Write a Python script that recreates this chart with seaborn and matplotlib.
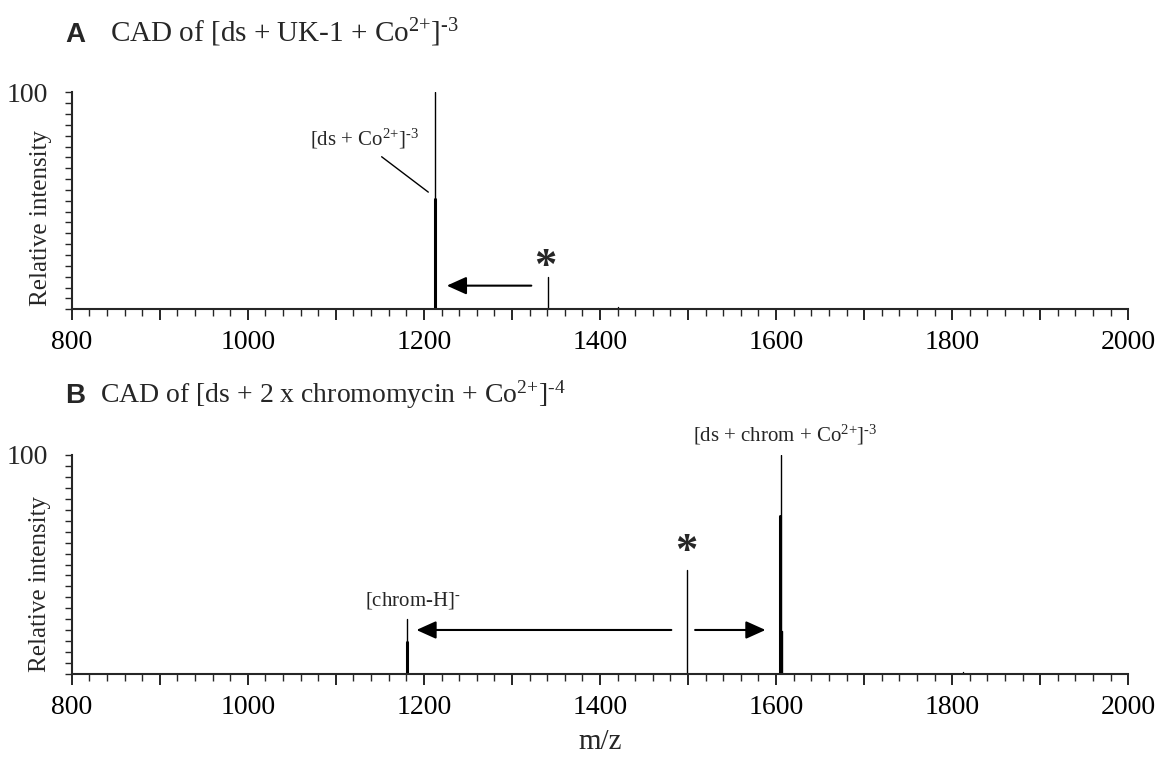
import numpy as np
import pandas as pd
import matplotlib
matplotlib.use("Agg")
import matplotlib.pyplot as plt
import seaborn as sns
from matplotlib.ticker import MultipleLocator, FixedLocator, FuncFormatter

# ---------------- data ----------------
a_mz = [1213.0, 1341.0, 1420.0]
a_int = [100.0, 14.7, 1.2]
a_core_mz = [1212.6]
a_core_int = [51.0]

b_mz = [1180.5, 1499.0, 1605.0, 1606.5, 1812.0]
b_int = [25.0, 47.5, 100.0, 19.6, 0.8]
b_core_mz = [1180.5, 1604.7]
b_core_int = [14.7, 72.0]

x_ticks = [800, 1000, 1200, 1400, 1600, 1800, 2000]
y_ticks = [100]
x_range = (800, 2000)
y_range = (0, 100)

title_a = r"CAD of [ds + UK-1 + Co$^{\text{2+}}$]$^{\text{-3}}$"
title_b = r"CAD of [ds + 2 x chromomycin + Co$^{\text{2+}}$]$^{\text{-4}}$"
label_a = r"[ds + Co$^{\text{2+}}$]$^{\text{-3}}$"
label_b1 = r"[chrom-H]$^{\text{-}}$"
label_b2 = r"[ds + chrom + Co$^{\text{2+}}$]$^{\text{-3}}$"

# ---------------- style ----------------
sns.set_style("ticks")
plt.rcParams["font.family"] = ["Liberation Serif", "DejaVu Serif"]
plt.rcParams["mathtext.fontset"] = "custom"
plt.rcParams["mathtext.rm"] = "Liberation Serif"
plt.rcParams["mathtext.it"] = "Liberation Serif:italic"
plt.rcParams["mathtext.bf"] = "Liberation Serif:bold"
plt.rcParams["axes.linewidth"] = 1.5


def sticks(mz, inten):
    rows = []
    for i, (m, h) in enumerate(zip(mz, inten)):
        rows.append({"mz": m, "I": 0.0, "pk": i})
        rows.append({"mz": m, "I": h, "pk": i})
    return pd.DataFrame(rows)


fig = plt.figure(figsize=(11.62, 7.6), dpi=100)
L = 71.7 / 1162
W = (1128.3 - 71.7) / 1162
axA = fig.add_axes([L, 1 - 309.3 / 760, W, (309.3 - 92.3) / 760])
axB = fig.add_axes([L, 1 - 674 / 760, W, (674 - 455) / 760])


def style_axis(ax):
    ax.set_xlim(*x_range)
    ax.set_ylim(*y_range)
    for s in ("top", "right"):
        ax.spines[s].set_visible(False)
    ax.xaxis.set_major_locator(MultipleLocator(100))
    ax.xaxis.set_major_formatter(
        FuncFormatter(lambda v, p: f"{int(round(v))}" if int(round(v)) in x_ticks else ""))
    ax.xaxis.set_minor_locator(MultipleLocator(20))
    ax.yaxis.set_major_locator(FixedLocator([0] + y_ticks))
    ax.yaxis.set_major_formatter(
        FuncFormatter(lambda v, p: f"{int(round(v))}" if int(round(v)) in y_ticks else ""))
    ax.yaxis.set_minor_locator(MultipleLocator(5))
    ax.tick_params(axis="x", which="major", length=8, width=1.2, direction="out",
                   labelsize=20, pad=7, colors="black")
    ax.tick_params(axis="x", which="minor", length=5, width=1.0, direction="out")
    ax.tick_params(axis="y", which="both", length=5, width=1.0, direction="out")
    ax.tick_params(axis="y", which="major", labelsize=20, pad=12)
    ax.set_xlabel("")
    ax.set_ylabel("")
    ax.set_facecolor("white")


for ax, mz, inten, cmz, cint in ((axA, a_mz, a_int, a_core_mz, a_core_int),
                                  (axB, b_mz, b_int, b_core_mz, b_core_int)):
    sns.lineplot(data=sticks(mz, inten), x="mz", y="I", units="pk", estimator=None,
                 sort=False, color="black", lw=1.0, ax=ax, legend=False)
    sns.lineplot(data=sticks(cmz, cint), x="mz", y="I", units="pk", estimator=None,
                 sort=False, color="black", lw=2.2, ax=ax, legend=False)
    style_axis(ax)

# y labels
axA.text(-0.029, 0.423, "Relative intensity", rotation=90, ha="center", va="center",
         fontsize=18, transform=axA.transAxes)
axB.text(-0.030, 0.411, "Relative intensity", rotation=90, ha="center", va="center",
         fontsize=18, transform=axB.transAxes)

arrow_kw = dict(arrowstyle="-|>,head_length=1.0,head_width=0.45", mutation_scale=12,
                lw=1.5, color="black", shrinkA=0, shrinkB=0)

# ---- panel A annotations ----
axA.text(1070.6, 75.7, label_a, fontsize=15, ha="left", va="baseline")
axA.plot([1152, 1205], [70.3, 54.0], color="black", lw=1.0)
axA.annotate("", xy=(1226, 10.9), xytext=(1322, 10.9), arrowprops=arrow_kw)
axA.text(1338, 19.5, "*", fontsize=32, fontweight="bold", ha="center", va="center")

# ---- panel B annotations ----
axB.text(1133, 31.5, label_b1, fontsize=15, ha="left", va="baseline")
axB.text(1505.5, 106.1, label_b2, fontsize=15, ha="left", va="baseline", clip_on=False)
axB.annotate("", xy=(1191.5, 20.1), xytext=(1481, 20.1), arrowprops=arrow_kw)
axB.annotate("", xy=(1588, 20.1), xytext=(1508, 20.1), arrowprops=arrow_kw)
axB.text(1497.6, 55.7, "*", fontsize=32, fontweight="bold", ha="center", va="center")

# ---- titles ----
fig.text(65 / 1162, 1 - 42 / 760, "A", family="Liberation Sans", fontweight="bold",
         fontsize=20, va="baseline", ha="left")
fig.text(110 / 1162, 1 - 42 / 760, title_a, fontsize=21, va="baseline", ha="left")
fig.text(65 / 1162, 1 - 403 / 760, "B", family="Liberation Sans", fontweight="bold",
         fontsize=20, va="baseline", ha="left")
fig.text(100 / 1162, 1 - 403 / 760, title_b, fontsize=20, va="baseline", ha="left")

# x label
fig.text(600 / 1162, 1 - 749 / 760, "m/z", fontsize=21, ha="center", va="baseline")

fig.savefig("out.png", dpi=100, facecolor="white")
